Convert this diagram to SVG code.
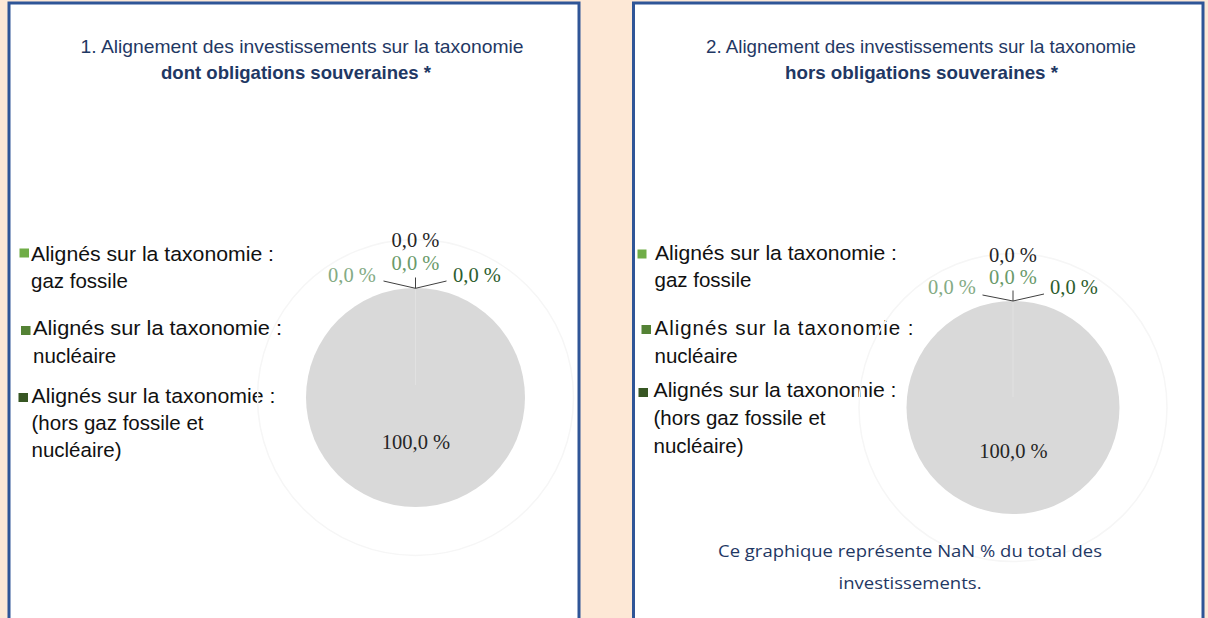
<svg xmlns="http://www.w3.org/2000/svg" width="1208" height="618" viewBox="0 0 1208 618">
<style>
.panel{fill:#ffffff;stroke:#2f5597;stroke-width:3}
.title{font-family:"Liberation Sans",Arial,sans-serif;font-size:18.5px;fill:#1f3864;text-anchor:middle}
.bold{font-weight:bold}
.leg{font-family:"Liberation Sans",Arial,sans-serif;font-size:20.5px;fill:#111111}
.pct{font-family:"Liberation Serif","Times New Roman",serif;font-size:20.5px;text-anchor:middle}
.k{fill:#262626}
.g1{fill:#84ab84}
.g2{fill:#6a9a6a}
.g3{fill:#2e5e2e}
.pie{fill:#d9d9d9}
.ring{fill:none;stroke:#f6f6f6;stroke-width:1.5}
.lead{fill:none;stroke:#404040;stroke-width:1}
.seam{stroke:#e3e3e3;stroke-width:0.8}
.note{font-family:"Open Sans","Liberation Sans",sans-serif;font-size:16.5px;fill:#1f3864;text-anchor:middle}
</style>
<rect x="0" y="0" width="1208" height="618" fill="#fde8d6"/>

<g id="panel1">
<rect class="panel" x="9" y="3" width="570" height="625"/>
<text class="title" x="302" y="53" textLength="443" lengthAdjust="spacingAndGlyphs">1. Alignement des investissements sur la taxonomie</text>
<text class="title bold" x="296" y="79" textLength="270" lengthAdjust="spacingAndGlyphs">dont obligations souveraines *</text>
</g>

<g id="legend1">
<rect x="19.5" y="248.5" width="9.5" height="9" fill="#70ad47"/>
<text class="leg" x="31" y="261" textLength="243" lengthAdjust="spacingAndGlyphs">Alignés sur la taxonomie :</text>
<text class="leg" x="31" y="288">gaz fossile</text>
<rect x="21" y="326" width="9.5" height="9" fill="#548235"/>
<text class="leg" x="33" y="335" textLength="249" lengthAdjust="spacingAndGlyphs">Alignés sur la taxonomie :</text>
<text class="leg" x="33" y="363">nucléaire</text>
<rect x="18.5" y="393" width="9.5" height="9" fill="#375623"/>
<text class="leg" x="31.5" y="402.5" textLength="244" lengthAdjust="spacingAndGlyphs">Alignés sur la taxonomie :</text>
<text class="leg" x="31.5" y="430">(hors gaz fossile et</text>
<text class="leg" x="31.5" y="457">nucléaire)</text>
</g>

<g id="pie1">
<circle class="ring" cx="415.5" cy="397.5" r="158"/>
<circle class="pie" cx="415.5" cy="397.5" r="109.5"/>
<line class="seam" x1="415.5" y1="288" x2="415.5" y2="385"/>
<text class="pct k" x="415.5" y="247">0,0 %</text>
<text class="pct g2" x="415.5" y="270">0,0 %</text>
<text class="pct g1" x="352" y="281.5">0,0 %</text>
<text class="pct g3" x="477" y="281.5">0,0 %</text>
<text class="pct k" x="416" y="448.5">100,0 %</text>
</g>

<g id="panel2">
<rect class="panel" x="633.5" y="3" width="569.5" height="625"/>
<text class="title" x="921" y="53" textLength="430" lengthAdjust="spacingAndGlyphs">2. Alignement des investissements sur la taxonomie</text>
<text class="title bold" x="921.5" y="79" textLength="273" lengthAdjust="spacingAndGlyphs">hors obligations souveraines *</text>
</g>

<g id="legend2">
<rect x="637.5" y="249.5" width="9" height="9" fill="#70ad47"/>
<text class="leg" x="655" y="259.5" textLength="242" lengthAdjust="spacingAndGlyphs">Alignés sur la taxonomie :</text>
<text class="leg" x="654.5" y="287">gaz fossile</text>
<rect x="641.5" y="325" width="9.5" height="9" fill="#548235"/>
<text class="leg" x="654.5" y="334.5" textLength="259" lengthAdjust="spacing">Alignés sur la taxonomie :</text>
<text class="leg" x="654.5" y="363">nucléaire</text>
<rect x="638.5" y="388" width="9.5" height="9" fill="#375623"/>
<text class="leg" x="653.5" y="397" textLength="243" lengthAdjust="spacingAndGlyphs">Alignés sur la taxonomie :</text>
<text class="leg" x="653.5" y="424.5">(hors gaz fossile et</text>
<text class="leg" x="653.5" y="452.5">nucléaire)</text>
</g>

<g id="pie2">
<circle class="ring" cx="1013" cy="407.5" r="154"/>
<circle class="pie" cx="1013" cy="407.5" r="106.5"/>
<line class="seam" x1="1013" y1="301" x2="1013" y2="397"/>
<text class="pct k" x="1013" y="262">0,0 %</text>
<text class="pct g2" x="1013" y="283.5">0,0 %</text>
<text class="pct g1" x="952" y="294">0,0 %</text>
<text class="pct g3" x="1074" y="294">0,0 %</text>
<text class="pct k" x="1013.5" y="457.5">100,0 %</text>
<text class="note" x="910" y="557" textLength="384" lengthAdjust="spacingAndGlyphs">Ce graphique représente NaN % du total des</text>
<text class="note" x="910" y="589" textLength="143" lengthAdjust="spacingAndGlyphs">investissements.</text>
</g>

<g id="connectors">
<polyline class="lead" points="383.5,281 415.5,288.3 446.5,281"/>
<line class="lead" x1="415.5" y1="277.5" x2="415.5" y2="288.3"/>
<polyline class="lead" points="982.5,295 1013,301 1044,294"/>
<line class="lead" x1="1013" y1="290.5" x2="1013" y2="301"/>
</g>
</svg>
